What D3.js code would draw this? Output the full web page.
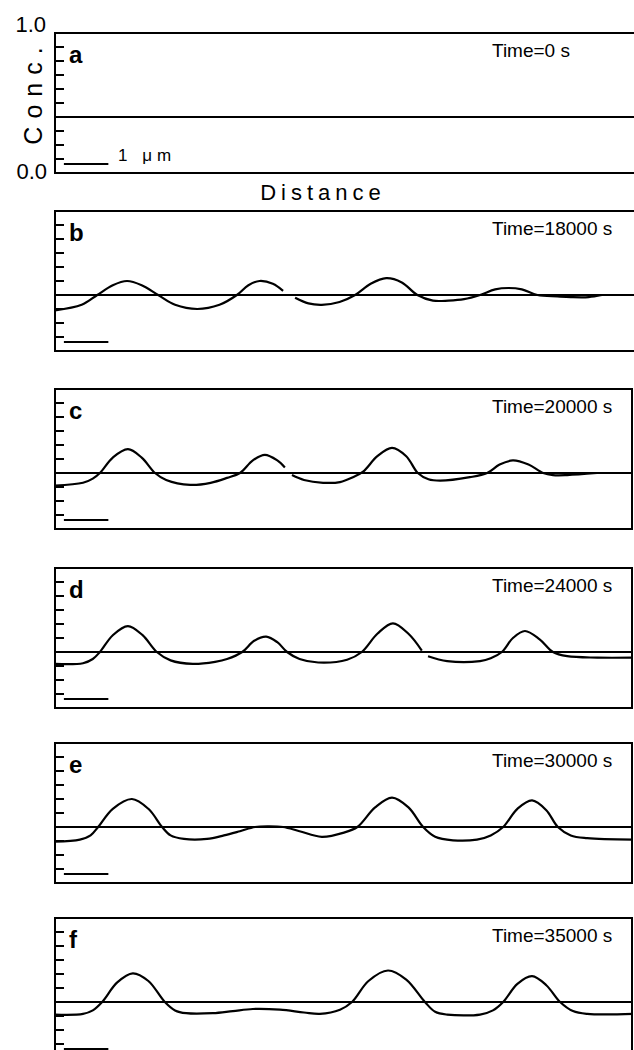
<!DOCTYPE html>
<html>
<head>
<meta charset="utf-8">
<script src="https://cdn.jsdelivr.net/npm/d3@7"></script>
<style>
  body { margin: 0; background: #fff; }
  text { font-family: "Liberation Sans", Arial, Helvetica, sans-serif; fill: #000; }
</style>
</head>
<body>
<div id="chart"></div>
<script>
// panel letters and time stamps
var panelLetters = ["a", "b", "c", "d", "e", "f"];
var timeLabels = ["Time=0 s", "Time=18000 s", "Time=20000 s", "Time=24000 s", "Time=30000 s", "Time=35000 s"];

// concentration profiles, [distance (um), conc]; null conc = break in the trace
var profileA = [[0, 0.40], [13, 0.40]];
var profileB = [[0, 0.29], [0.6, 0.33], [0.95, 0.40], [1.3, 0.47], [1.62, 0.50], [1.95, 0.47], [2.32, 0.40],
  [2.7, 0.33], [3.2, 0.30], [3.7, 0.33], [4.09, 0.40], [4.35, 0.47], [4.6, 0.50], [4.9, 0.48], [5.13, 0.43],
  [5.25, null],
  [5.4, 0.38], [5.7, 0.34], [6.0, 0.33], [6.4, 0.35], [6.75, 0.40], [7.1, 0.48], [7.45, 0.52], [7.8, 0.49],
  [8.15, 0.40], [8.5, 0.36], [8.85, 0.36], [9.2, 0.37], [9.56, 0.40], [9.9, 0.44], [10.2, 0.45], [10.5, 0.44],
  [10.85, 0.40], [11.3, 0.39], [11.6, 0.385], [12.0, 0.385], [12.3, 0.40]];
var profileC = [[0, 0.31], [0.63, 0.33], [0.85, 0.36], [1.01, 0.40], [1.3, 0.51], [1.64, 0.57], [1.95, 0.51],
  [2.25, 0.40], [2.5, 0.35], [3.04, 0.315], [3.5, 0.33], [3.87, 0.365], [4.16, 0.40], [4.45, 0.49], [4.72, 0.53],
  [5.0, 0.49], [5.17, 0.44],
  [5.25, null],
  [5.33, 0.385], [5.6, 0.35], [6.03, 0.33], [6.41, 0.335], [6.7, 0.37], [6.93, 0.41], [7.25, 0.52], [7.58, 0.58],
  [7.9, 0.52], [8.16, 0.40], [8.4, 0.355], [8.66, 0.345], [9.33, 0.37], [9.72, 0.40], [10.0, 0.46], [10.3, 0.49],
  [10.65, 0.46], [10.98, 0.40], [11.2, 0.385], [11.52, 0.385], [12.19, 0.40]];
var profileD = [[0, 0.315], [0.63, 0.32], [0.85, 0.35], [1.01, 0.40], [1.3, 0.52], [1.64, 0.585], [1.97, 0.52],
  [2.29, 0.40], [2.6, 0.34], [3.1, 0.315], [3.6, 0.33], [3.87, 0.35], [4.21, 0.40], [4.48, 0.48], [4.75, 0.51],
  [5.0, 0.47], [5.22, 0.40], [5.5, 0.35], [5.92, 0.325], [6.57, 0.345], [6.9, 0.40], [7.25, 0.53], [7.6, 0.605],
  [7.95, 0.53], [8.25, 0.41],
  [8.32, null],
  [8.39, 0.37], [8.82, 0.335], [9.56, 0.335], [9.8, 0.355], [10.05, 0.40], [10.3, 0.50], [10.57, 0.55],
  [10.9, 0.49], [11.2, 0.40], [11.52, 0.37], [12.2, 0.36], [13.0, 0.36]];
var profileE = [[0, 0.295], [0.56, 0.31], [0.8, 0.34], [0.97, 0.40], [1.3, 0.53], [1.73, 0.60], [2.1, 0.53],
  [2.41, 0.40], [2.6, 0.34], [2.9, 0.315], [3.42, 0.315], [3.8, 0.34], [4.16, 0.37], [4.5, 0.40], [4.8, 0.405],
  [5.13, 0.40], [5.5, 0.37], [6.0, 0.33], [6.5, 0.36], [6.8, 0.40], [7.2, 0.54], [7.58, 0.61], [7.95, 0.54],
  [8.28, 0.40], [8.55, 0.33], [8.95, 0.305], [9.49, 0.31], [9.8, 0.34], [10.08, 0.40], [10.4, 0.53], [10.73, 0.59],
  [11.05, 0.52], [11.31, 0.40], [11.6, 0.34], [11.97, 0.32], [13.0, 0.31]];
var profileF = [[0, 0.31], [0.63, 0.315], [0.85, 0.34], [1.06, 0.40], [1.4, 0.54], [1.75, 0.605], [2.1, 0.55],
  [2.47, 0.40], [2.7, 0.34], [2.95, 0.32], [3.55, 0.32], [4.0, 0.335], [4.45, 0.35], [5.06, 0.345], [5.6, 0.325],
  [5.96, 0.315], [6.41, 0.345], [6.68, 0.40], [7.05, 0.55], [7.49, 0.625], [7.9, 0.56], [8.32, 0.40], [8.55, 0.33],
  [8.82, 0.31], [9.56, 0.31], [9.85, 0.34], [10.08, 0.40], [10.4, 0.53], [10.73, 0.585], [11.05, 0.52],
  [11.36, 0.40], [11.65, 0.335], [11.97, 0.315], [13.0, 0.315]];
var profiles = [profileA, profileB, profileC, profileD, profileE, profileF];

var meanConc = 0.4;                       // reference line
var concTicks = [0.1, 0.2, 0.3, 0.4, 0.5, 0.6, 0.7, 0.8, 0.9];
var concLabels = ["0.0", "1.0"];
var scaleBar = [0.2, 1.2];                // 1 um bar, in um

// layout
var W = 634, H = 1050;
var left = 55, plotW = 578, plotH = 140;
var panelTops = [33, 211, 389, 568, 743, 918];

var svg = d3.select("#chart").append("svg")
  .attr("width", W)
  .attr("height", H);

var x = d3.scaleLinear().domain([0, 13]).range([left, left + plotW]);

var line = d3.line()
  .defined(function(d) { return d[1] != null; })
  .curve(d3.curveCatmullRom.alpha(0.5));

profiles.forEach(function(prof, i) {
  var top = panelTops[i];
  var y = d3.scaleLinear().domain([0, 1]).range([top + plotH, top]);
  var right = i < 2 ? W + 4 : 632;
  var g = svg.append("g").attr("class", "panel");

  // frame
  g.append("rect")
    .attr("x", left).attr("y", top)
    .attr("width", right - left).attr("height", plotH)
    .attr("fill", "none").attr("stroke", "#000").attr("stroke-width", 2);

  // inward ticks
  g.selectAll(".tick").data(concTicks).enter().append("line")
    .attr("x1", left).attr("x2", left + 9)
    .attr("y1", function(d) { return y(d); }).attr("y2", function(d) { return y(d); })
    .attr("stroke", "#000").attr("stroke-width", 2);

  // mean concentration line
  g.append("line")
    .attr("x1", left).attr("x2", right)
    .attr("y1", y(meanConc)).attr("y2", y(meanConc))
    .attr("stroke", "#000").attr("stroke-width", 2);

  // profile
  g.append("path")
    .attr("d", line(prof.map(function(d) { return [x(d[0]), d[1] == null ? null : y(d[1])]; })))
    .attr("fill", "none").attr("stroke", "#000").attr("stroke-width", 2.2)
    .attr("stroke-linejoin", "round");

  // scale bar
  g.append("line")
    .attr("x1", x(scaleBar[0])).attr("x2", x(scaleBar[1]))
    .attr("y1", top + plotH - 9).attr("y2", top + plotH - 9)
    .attr("stroke", "#000").attr("stroke-width", 2);

  // panel letter
  g.append("text")
    .attr("x", left + 14).attr("y", top + 30)
    .style("font-size", "24px").style("font-weight", "bold")
    .text(panelLetters[i]);

  // time label
  g.append("text")
    .attr("x", 492).attr("y", top + 24)
    .style("font-size", "19px")
    .text(timeLabels[i]);

  if (i === 0) {
    svg.append("text")
      .attr("x", 47).attr("y", y(0) + 6)
      .attr("text-anchor", "end")
      .style("font-size", "22px")
      .text(concLabels[0]);
    svg.append("text")
      .attr("x", 46).attr("y", y(1) - 1)
      .attr("text-anchor", "end")
      .style("font-size", "22px")
      .text(concLabels[1]);
    svg.append("text")
      .attr("transform", "translate(42," + (top + 59) + ") rotate(-90)")
      .attr("text-anchor", "middle")
      .style("font-size", "25px").style("letter-spacing", "8px")
      .text("Conc.");
    svg.append("text")
      .attr("x", 118).attr("y", top + plotH - 12)
      .style("font-size", "17px").style("letter-spacing", "5px")
      .text("1 \u03bcm");
    svg.append("text")
      .attr("x", 323).attr("y", top + plotH + 27)
      .attr("text-anchor", "middle")
      .style("font-size", "22px").style("letter-spacing", "5px")
      .text("Distance");
  }
});
</script>
</body>
</html>
